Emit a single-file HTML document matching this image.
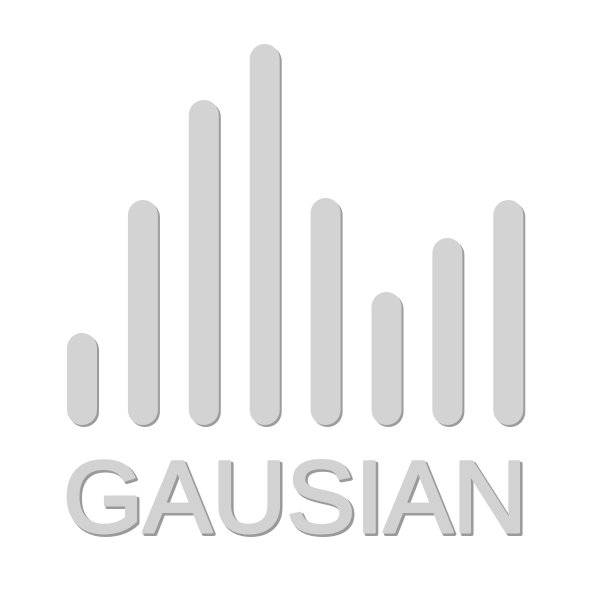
<!DOCTYPE html>
<html><head><meta charset="utf-8"><style>
html,body{margin:0;padding:0;background:#fff;width:594px;height:595px;overflow:hidden}
</style></head><body>
<svg id="logo" width="594" height="595" viewBox="0 0 594 595" xmlns="http://www.w3.org/2000/svg">
<g id="bars"></g>
<text x="65" y="534" textLength="464" lengthAdjust="spacingAndGlyphs" font-family="Liberation Sans, sans-serif" font-size="102" fill="#9a9a9a" stroke="#9a9a9a" stroke-width="4" stroke-linejoin="round">GAUSIAN</text>
<text x="63" y="532" textLength="464" lengthAdjust="spacingAndGlyphs" font-family="Liberation Sans, sans-serif" font-size="102" fill="#d2d2d2" stroke="#d2d2d2" stroke-width="3" stroke-linejoin="round">GAUSIAN</text>
</svg>
<script>
const categories = ["b1","b2","b3","b4","b5","b6","b7","b8"];
const values = [92, 225, 325, 381, 227, 133, 187, 225];
const ns = "http://www.w3.org/2000/svg";
const x0 = 82, step = 60.9, baseY = 425, barW = 30;
function xPos(i){ return x0 + i*step; }
function yPos(v){ return baseY - v; }
const g = document.getElementById('bars');
categories.forEach((c,i)=>{
  const x = xPos(i) - barW/2, y = yPos(values[i]), h = values[i];
  const sh = document.createElementNS(ns,'rect');
  
  
  sh.setAttribute('x', x+2); sh.setAttribute('y', y+2);
  sh.setAttribute('width', barW); sh.setAttribute('height', h);
  sh.setAttribute('rx', barW/2); sh.setAttribute('fill', '#9c9c9c');
  g.appendChild(sh);
  const r = document.createElementNS(ns,'rect');
  
  
  r.setAttribute('x', x); r.setAttribute('y', y);
  r.setAttribute('width', barW); r.setAttribute('height', h);
  r.setAttribute('rx', barW/2); r.setAttribute('fill', '#d3d3d3');
  g.appendChild(r);
});
</script>
</body></html>
